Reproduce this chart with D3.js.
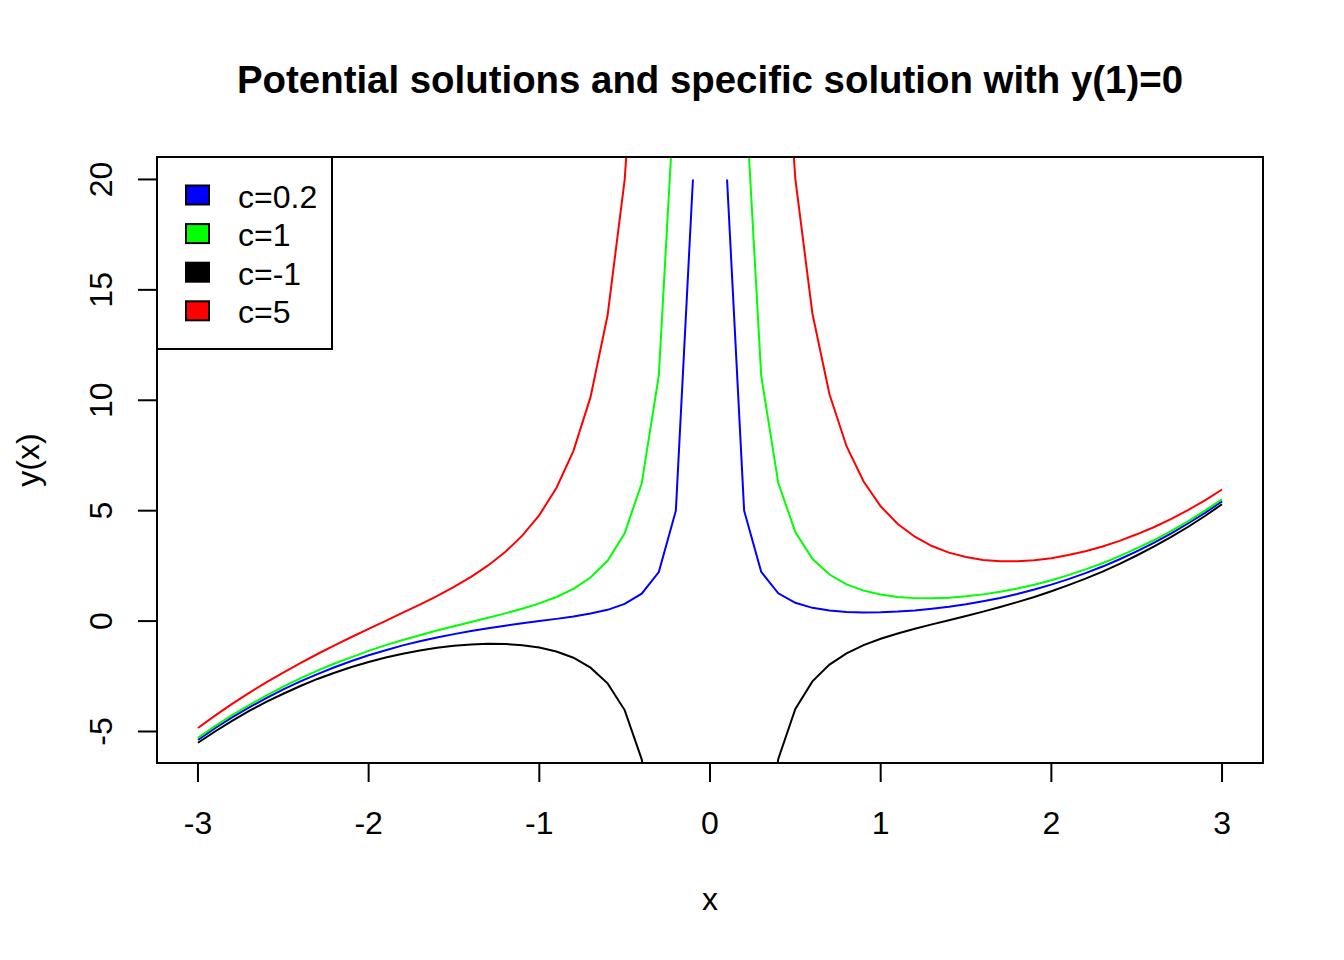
<!DOCTYPE html>
<html>
<head>
<meta charset="utf-8">
<script src="https://cdn.jsdelivr.net/npm/d3@7"></script>
<style>
  body { margin: 0; background: #fff; }
  text { font-family: "Liberation Sans", Arial, sans-serif; fill: #000; }
</style>
</head>
<body>
<script>
const w = 1344;
const h = 960;

// x grid (x = 0 has no value, the curves break there)
const xs = [-3.0, -2.9, -2.8, -2.7, -2.6, -2.5, -2.4, -2.3, -2.2, -2.1,
  -2.0, -1.9, -1.8, -1.7, -1.6, -1.5, -1.4, -1.3, -1.2, -1.1,
  -1.0, -0.9, -0.8, -0.7, -0.6, -0.5, -0.4, -0.3, -0.2, -0.1,
  0.0,
  0.1, 0.2, 0.3, 0.4, 0.5, 0.6, 0.7, 0.8, 0.9, 1.0,
  1.1, 1.2, 1.3, 1.4, 1.5, 1.6, 1.7, 1.8, 1.9, 2.0,
  2.1, 2.2, 2.3, 2.4, 2.5, 2.6, 2.7, 2.8, 2.9, 3.0];

const yC02 = [-5.38, -4.85, -4.36, -3.91, -3.49, -3.09, -2.73, -2.40, -2.09, -1.81,
  -1.55, -1.32, -1.10, -0.91, -0.74, -0.59, -0.45, -0.32, -0.21, -0.10,
  0.00, 0.10, 0.21, 0.34, 0.51, 0.78, 1.24, 2.22, 5.00, 20.00,
  null,
  20.00, 5.00, 2.23, 1.26, 0.83, 0.60, 0.48, 0.41, 0.39, 0.40,
  0.43, 0.48, 0.56, 0.65, 0.76, 0.90, 1.05, 1.23, 1.43, 1.65,
  1.90, 2.17, 2.47, 2.80, 3.16, 3.54, 3.96, 4.42, 4.90, 5.42];

const yC1 = [-5.29, -4.76, -4.26, -3.80, -3.37, -2.97, -2.59, -2.24, -1.92, -1.63,
  -1.35, -1.09, -0.86, -0.64, -0.43, -0.23, -0.04, 0.15, 0.35, 0.56,
  0.80, 1.09, 1.46, 1.97, 2.73, 3.98, 6.24, 11.11, 25.00, 100.00,
  null,
  100.00, 25.00, 11.12, 6.26, 4.03, 2.82, 2.11, 1.66, 1.38, 1.20,
  1.09, 1.04, 1.03, 1.06, 1.12, 1.21, 1.33, 1.48, 1.65, 1.85,
  2.08, 2.34, 2.62, 2.94, 3.29, 3.66, 4.07, 4.52, 5.00, 5.51];

const yCm1 = [-5.51, -5.00, -4.52, -4.07, -3.66, -3.29, -2.94, -2.62, -2.34, -2.08,
  -1.85, -1.65, -1.48, -1.33, -1.21, -1.12, -1.06, -1.03, -1.04, -1.09,
  -1.20, -1.38, -1.66, -2.11, -2.82, -4.03, -6.26, -11.12, -25.00, -100.00,
  null,
  -100.00, -25.00, -11.11, -6.24, -3.98, -2.73, -1.97, -1.46, -1.09, -0.80,
  -0.56, -0.35, -0.15, 0.04, 0.23, 0.43, 0.64, 0.86, 1.09, 1.35,
  1.63, 1.92, 2.24, 2.59, 2.97, 3.37, 3.80, 4.26, 4.76, 5.29];

const yC5 = [-4.84, -4.28, -3.75, -3.25, -2.78, -2.33, -1.90, -1.49, -1.10, -0.72,
  -0.35, 0.01, 0.38, 0.75, 1.13, 1.55, 2.00, 2.52, 3.13, 3.87,
  4.80, 6.03, 7.71, 10.14, 13.85, 19.98, 31.24, 55.55, 125.00, 500.00,
  null,
  500.00, 125.00, 55.56, 31.26, 20.03, 13.93, 10.27, 7.92, 6.32, 5.20,
  4.40, 3.82, 3.40, 3.10, 2.90, 2.77, 2.71, 2.71, 2.76, 2.85,
  2.99, 3.16, 3.38, 3.63, 3.93, 4.25, 4.62, 5.03, 5.47, 5.96];

const seriesNames = ["c=0.2", "c=1", "c=-1", "c=5"];
const seriesColors = ["blue", "#00ff00", "black", "red"];
const seriesValues = [yC02, yC1, yCm1, yC5];

const xTicks = [-3, -2, -1, 0, 1, 2, 3];
const yTicks = [-5, 0, 5, 10, 15, 20];
const xlim = [-3, 3];
const ylim = [-5.41, 20];

// plot region
const pLeft = 157, pRight = 1263, pTop = 157, pBottom = 763;

// R style 4% axis expansion
const padX = (xlim[1] - xlim[0]) * 0.04;
const padY = (ylim[1] - ylim[0]) * 0.04;

const x = d3.scaleLinear().domain([xlim[0] - padX, xlim[1] + padX]).range([pLeft, pRight]);
const y = d3.scaleLinear().domain([ylim[0] - padY, ylim[1] + padY]).range([pBottom, pTop]);

const svg = d3.select("body")
  .append("svg")
  .attr("width", w)
  .attr("height", h);

svg.append("defs").append("clipPath")
  .attr("id", "plotclip")
  .append("rect")
  .attr("x", pLeft)
  .attr("y", pTop)
  .attr("width", pRight - pLeft)
  .attr("height", pBottom - pTop);

// curves
const line = d3.line()
  .defined(d => d[1] !== null)
  .x(d => x(d[0]))
  .y(d => y(d[1]));

const curves = svg.append("g").attr("clip-path", "url(#plotclip)");
seriesValues.forEach((vals, i) => {
  curves.append("path")
    .datum(xs.map((xv, j) => [xv, vals[j]]))
    .attr("fill", "none")
    .attr("stroke", seriesColors[i])
    .attr("stroke-width", 2)
    .attr("d", line);
});

// box
svg.append("rect")
  .attr("x", pLeft)
  .attr("y", pTop)
  .attr("width", pRight - pLeft)
  .attr("height", pBottom - pTop)
  .attr("fill", "none")
  .attr("stroke", "black")
  .attr("stroke-width", 2);

// x axis
const xAxis = svg.append("g");
xAxis.append("line")
  .attr("x1", x(xTicks[0])).attr("x2", x(xTicks[xTicks.length - 1]))
  .attr("y1", pBottom).attr("y2", pBottom)
  .attr("stroke", "black").attr("stroke-width", 2);
xAxis.selectAll("line.tick")
  .data(xTicks)
  .enter()
  .append("line")
  .attr("class", "tick")
  .attr("x1", d => x(d)).attr("x2", d => x(d))
  .attr("y1", pBottom).attr("y2", pBottom + 19)
  .attr("stroke", "black").attr("stroke-width", 2);
xAxis.selectAll("text")
  .data(xTicks)
  .enter()
  .append("text")
  .attr("x", d => x(d))
  .attr("y", 834)
  .attr("text-anchor", "middle")
  .style("font-size", "32px")
  .text(d => d);

// y axis
const yAxis = svg.append("g");
yAxis.append("line")
  .attr("x1", pLeft).attr("x2", pLeft)
  .attr("y1", y(yTicks[0])).attr("y2", y(yTicks[yTicks.length - 1]))
  .attr("stroke", "black").attr("stroke-width", 2);
yAxis.selectAll("line.tick")
  .data(yTicks)
  .enter()
  .append("line")
  .attr("class", "tick")
  .attr("x1", pLeft - 19).attr("x2", pLeft)
  .attr("y1", d => y(d)).attr("y2", d => y(d))
  .attr("stroke", "black").attr("stroke-width", 2);
yAxis.selectAll("text")
  .data(yTicks)
  .enter()
  .append("text")
  .attr("transform", d => "translate(112," + y(d) + ") rotate(-90)")
  .attr("text-anchor", "middle")
  .style("font-size", "32px")
  .text(d => d);

// titles
svg.append("text")
  .attr("x", (pLeft + pRight) / 2)
  .attr("y", 93)
  .attr("text-anchor", "middle")
  .style("font-size", "38.4px")
  .style("font-weight", "bold")
  .text("Potential solutions and specific solution with y(1)=0");

svg.append("text")
  .attr("x", (pLeft + pRight) / 2)
  .attr("y", 910)
  .attr("text-anchor", "middle")
  .style("font-size", "32px")
  .text("x");

svg.append("text")
  .attr("transform", "translate(39," + ((pTop + pBottom) / 2) + ") rotate(-90)")
  .attr("text-anchor", "middle")
  .style("font-size", "32px")
  .text("y(x)");

// legend
const legend = svg.append("g");
legend.append("rect")
  .attr("x", pLeft)
  .attr("y", pTop)
  .attr("width", 175)
  .attr("height", 192)
  .attr("fill", "white")
  .attr("stroke", "black")
  .attr("stroke-width", 2);

const items = legend.selectAll("g.item")
  .data(seriesNames)
  .enter()
  .append("g")
  .attr("class", "item")
  .attr("transform", (d, i) => "translate(0," + (195.5 + i * 38.6) + ")");

items.append("rect")
  .attr("x", 186)
  .attr("y", -10)
  .attr("width", 23)
  .attr("height", 19)
  .attr("fill", (d, i) => seriesColors[i])
  .attr("stroke", "black")
  .attr("stroke-width", 2);

items.append("text")
  .attr("x", 238)
  .attr("y", 12)
  .style("font-size", "32px")
  .text(d => d);
</script>
</body>
</html>
